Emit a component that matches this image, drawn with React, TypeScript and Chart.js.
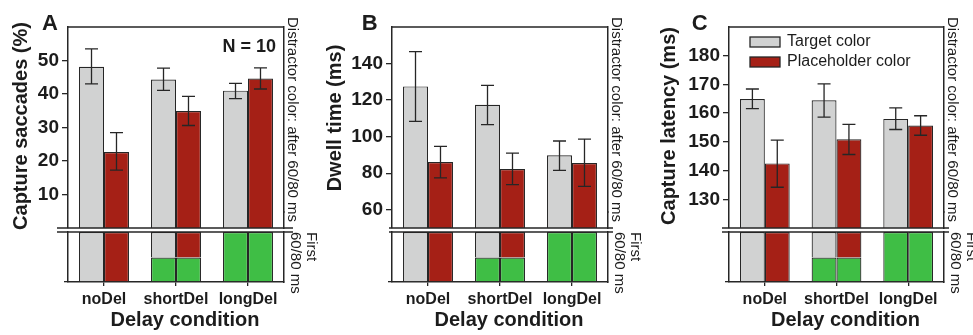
import React, { useEffect, useRef } from 'react';
import { Chart, registerables } from 'chart.js';

Chart.register(...registerables);

// ---------- data ----------
const categories = ['noDel', 'shortDel', 'longDel'];
const seriesNames = ['Target color', 'Placeholder color'];

// Panel A: capture saccades (%)
const saccTarget = [48.1, 44.3, 41.0];
const saccTargetLo = [43.0, 41.1, 38.6];
const saccTargetHi = [53.5, 47.7, 43.2];
const saccPlace = [22.7, 34.9, 44.6];
const saccPlaceLo = [17.3, 30.6, 41.5];
const saccPlaceHi = [28.5, 39.3, 47.8];
const saccTicks = [10, 20, 30, 40, 50];

// Panel B: dwell time (ms)
const dwellTarget = [127.5, 117.4, 89.8];
const dwellTargetLo = [108.4, 106.6, 81.5];
const dwellTargetHi = [146.5, 128.0, 97.6];
const dwellPlace = [86.1, 82.3, 85.6];
const dwellPlaceLo = [77.4, 73.7, 72.8];
const dwellPlaceHi = [94.7, 91.0, 98.6];
const dwellTicks = [60, 80, 100, 120, 140];

// Panel C: capture latency (ms)
const latTarget = [164.9, 164.5, 158.0];
const latTargetLo = [161.6, 158.6, 154.3];
const latTargetHi = [168.4, 170.2, 161.8];
const latPlace = [142.5, 150.9, 155.7];
const latPlaceLo = [134.2, 145.6, 152.3];
const latPlaceHi = [150.6, 156.1, 159.1];
const latTicks = [130, 140, 150, 160, 170, 180];

// First 60/80 ms strip: share of the interval in green (delay) vs. distractor colour
const stripGreen = [0, 0.49, 1];
const stripColour = [1, 0.51, 0];

// ---------- style ----------
const FONT = "'Liberation Sans', Arial, Helvetica, sans-serif";
const GRAY = '#D1D2D2';
const RED = '#A52016';
const GREEN = '#3FBE45';
const EDGE = '#262626';
const INK = '#1c1c1c';

const errorBarPlugin = {
  id: 'errorBars',
  afterDatasetsDraw(chart: any) {
    const ctx = chart.ctx;
    const yScale = chart.scales.y;
    chart.data.datasets.forEach((ds: any, i: number) => {
      if (!ds.errLo) return;
      const meta = chart.getDatasetMeta(i);
      meta.data.forEach((bar: any, j: number) => {
        const x = bar.x;
        const yH = yScale.getPixelForValue(ds.errHi[j]);
        const yL = yScale.getPixelForValue(ds.errLo[j]);
        ctx.save();
        ctx.strokeStyle = EDGE;
        ctx.lineWidth = 1.3;
        ctx.beginPath();
        ctx.moveTo(x, yH);
        ctx.lineTo(x, yL);
        ctx.moveTo(x - 6.5, yH);
        ctx.lineTo(x + 6.5, yH);
        ctx.moveTo(x - 6.5, yL);
        ctx.lineTo(x + 6.5, yL);
        ctx.stroke();
        ctx.restore();
      });
    });
  },
};

const framePlugin = {
  id: 'frame',
  afterDraw(chart: any, _args: any, opts: any) {
    const { left, right, top, bottom } = chart.chartArea;
    const ctx = chart.ctx;
    ctx.save();
    ctx.strokeStyle = EDGE;
    ctx.lineWidth = 1.5;
    ctx.beginPath();
    if (opts.top) {
      ctx.moveTo(left, top);
      ctx.lineTo(right, top);
    }
    if (opts.breakBottom) {
      ctx.moveTo(left - opts.ext[0], bottom);
      ctx.lineTo(right + opts.ext[1], bottom);
    }
    if (opts.breakTop) {
      ctx.moveTo(left - opts.ext[0], top);
      ctx.lineTo(right + opts.ext[1], top);
    }
    ctx.stroke();
    ctx.restore();
  },
};

const notesPlugin = {
  id: 'notes',
  afterDraw(chart: any, _args: any, opts: any) {
    const ctx = chart.ctx;
    const area = chart.chartArea;
    ctx.save();
    ctx.fillStyle = INK;
    if (opts.letter) {
      ctx.font = `bold 22px ${FONT}`;
      ctx.textAlign = 'left';
      ctx.textBaseline = 'alphabetic';
      ctx.fillText(opts.letter, opts.letterX, 30);
    }
    if (opts.note) {
      ctx.font = `bold 18px ${FONT}`;
      ctx.textAlign = 'right';
      ctx.textBaseline = 'alphabetic';
      ctx.fillText(opts.note, area.right - 8, area.top + 25);
    }
    if (opts.legend) {
      const sx = area.left + 21;
      chart.data.datasets.forEach((ds: any, i: number) => {
        const y = area.top + 10 + i * 20;
        ctx.fillStyle = ds.backgroundColor;
        ctx.fillRect(sx, y, 30, 10);
        ctx.strokeStyle = EDGE;
        ctx.lineWidth = 1.3;
        ctx.strokeRect(sx, y, 30, 10);
        ctx.fillStyle = INK;
        ctx.font = `16px ${FONT}`;
        ctx.textAlign = 'left';
        ctx.textBaseline = 'middle';
        ctx.fillText(ds.label, sx + 37, y + 5);
      });
    }
    ctx.restore();
  },
};

type PanelCfg = {
  left: number;
  width: number;
  yWidth: number;
  letter: string;
  letterX: number;
  yTitle: string;
  yTitlePad: number;
  yTitleW: number;
  yTitleRaise: number;
  min: number;
  max: number;
  ticks: number[];
  target: number[];
  targetLo: number[];
  targetHi: number[];
  place: number[];
  placeLo: number[];
  placeHi: number[];
  ext: [number, number];
  note?: string;
  legend?: boolean;
};

const UPPER_H = 232;
const LOWER_TOP = 226;
const LOWER_H = 109;
const RIGHT_W = 40;
const CAT_PCT = 0.694;
const BW = 1.2;
const PLOT_H = 201;

const noPad = (s: any) => {
  s.paddingTop = 0;
  s.paddingBottom = 0;
  s.paddingLeft = 0;
  s.paddingRight = 0;
};

const hidden = {
  ticks: { display: false },
  grid: { display: false },
};

function Panel({ cfg }: { cfg: PanelCfg }) {
  const upperRef = useRef<HTMLCanvasElement>(null);
  const lowerRef = useRef<HTMLCanvasElement>(null);

  useEffect(() => {
    const raise = Math.max(cfg.yTitleRaise * 2, 0.5);
    const upper = new Chart(upperRef.current as HTMLCanvasElement, {
      type: 'bar',
      data: {
        labels: categories,
        datasets: [
          {
            label: seriesNames[0],
            data: cfg.target,
            xAxisID: 'x',
            yAxisID: 'y',
            backgroundColor: GRAY,
            borderColor: EDGE,
            borderWidth: BW,
            categoryPercentage: CAT_PCT,
            barPercentage: 1,
            errLo: cfg.targetLo,
            errHi: cfg.targetHi,
          } as any,
          {
            label: seriesNames[1],
            data: cfg.place,
            xAxisID: 'x',
            yAxisID: 'y',
            backgroundColor: RED,
            borderColor: EDGE,
            borderWidth: BW,
            categoryPercentage: CAT_PCT,
            barPercentage: 1,
            errLo: cfg.placeLo,
            errHi: cfg.placeHi,
          } as any,
        ],
      },
      options: {
        animation: false,
        responsive: false,
        events: [],
        layout: { padding: { top: 27, bottom: UPPER_H - 228, left: 0, right: 0 } },
        plugins: {
          legend: { display: false },
          tooltip: { enabled: false },
          frame: { top: true, breakBottom: true, ext: cfg.ext },
          notes: { letter: cfg.letter, letterX: cfg.letterX, note: cfg.note, legend: cfg.legend },
        } as any,
        scales: {
          x: { display: false, afterFit: noPad },
          y: {
            position: 'left',
            min: cfg.min,
            max: cfg.max,
            afterBuildTicks: (s: any) => {
              s.ticks = cfg.ticks.map((v) => ({ value: v }));
            },
            afterFit: (s: any) => {
              s.width = cfg.yWidth - cfg.yTitleW;
              noPad(s);
            },
            ticks: { font: { family: FONT, size: 19, weight: 'bold' }, color: INK, padding: 3 },
            grid: { display: true, drawOnChartArea: false, drawTicks: true, tickLength: 6, color: EDGE, lineWidth: 1.3 },
            border: { display: true, color: EDGE, width: 1.5 },
          },
          // left title column: a blank spacer stacked under the titled axis
          ys: {
            type: 'linear',
            position: 'left',
            stack: 'left',
            stackWeight: raise,
            afterFit: (s: any) => {
              s.width = cfg.yTitleW;
              noPad(s);
            },
            ...hidden,
            border: { display: false },
          },
          yt: {
            type: 'linear',
            position: 'left',
            stack: 'left',
            stackWeight: PLOT_H - raise,
            afterFit: (s: any) => {
              s.width = cfg.yTitleW;
              noPad(s);
            },
            ...hidden,
            border: { display: false },
            title: {
              display: true,
              text: cfg.yTitle,
              color: INK,
              font: { family: FONT, size: 20, weight: 'bold', lineHeight: 1.2 },
              padding: { top: cfg.yTitlePad, bottom: 0 },
            },
          },
          // right-hand side: a titled axis stacked over a short plain one
          y2: {
            type: 'linear',
            position: 'right',
            stack: 'right',
            stackWeight: 185,
            min: 0,
            max: 1,
            afterFit: (s: any) => {
              s.width = RIGHT_W;
              noPad(s);
            },
            ...hidden,
            border: { display: true, color: EDGE, width: 1.5 },
            title: {
              display: true,
              text: 'Distractor color: after 60/80 ms',
              color: INK,
              font: { family: FONT, size: 15, lineHeight: 1.15 },
              padding: { top: 23.4, bottom: 0 },
            },
          },
          y3: {
            type: 'linear',
            position: 'right',
            stack: 'right',
            stackWeight: 16,
            min: 0,
            max: 1,
            afterFit: (s: any) => {
              s.width = RIGHT_W;
              noPad(s);
            },
            ...hidden,
            border: { display: true, color: EDGE, width: 1.5 },
          },
        } as any,
      },
      plugins: [errorBarPlugin, framePlugin, notesPlugin],
    } as any);

    const seg = (data: number[], stack: string, colour: string, label: string) => ({
      label,
      data,
      stack,
      xAxisID: 'x',
      yAxisID: 'y',
      backgroundColor: colour,
      borderColor: EDGE,
      borderWidth: BW,
      categoryPercentage: CAT_PCT,
      barPercentage: 1,
    });

    const lower = new Chart(lowerRef.current as HTMLCanvasElement, {
      type: 'bar',
      data: {
        labels: categories,
        datasets: [
          seg(stripGreen, 'target', GREEN, 'Target: delay'),
          seg(stripColour, 'target', GRAY, 'Target color'),
          seg(stripGreen, 'place', GREEN, 'Placeholder: delay'),
          seg(stripColour, 'place', RED, 'Placeholder color'),
        ],
      },
      options: {
        animation: false,
        responsive: false,
        events: [],
        layout: { padding: { top: 232 - LOWER_TOP, bottom: 0, left: 0, right: 0 } },
        plugins: {
          legend: { display: false },
          tooltip: { enabled: false },
          frame: { top: false, breakTop: true, ext: cfg.ext },
        } as any,
        scales: {
          x: {
            stacked: true,
            position: 'bottom',
            afterFit: (s: any) => {
              s.height = 32;
              noPad(s);
            },
            grid: { display: true, drawOnChartArea: false, offset: false, drawTicks: true, tickLength: 4, color: EDGE, lineWidth: 1.3 },
            border: { display: true, color: EDGE, width: 1.5 },
            ticks: { font: { family: FONT, size: 16, weight: 'bold' }, color: INK, padding: 4, maxRotation: 0 },
          },
          // axis title row: a short blank axis stacked beside the titled one
          xs: {
            type: 'category',
            position: 'bottom',
            stack: 'xtitle',
            stackWeight: 18,
            afterFit: (s: any) => {
              s.height = LOWER_TOP + LOWER_H - 282 - 32;
              noPad(s);
            },
            ...hidden,
            border: { display: false },
          },
          xt: {
            type: 'category',
            position: 'bottom',
            stack: 'xtitle',
            stackWeight: 198,
            afterFit: (s: any) => {
              s.height = LOWER_TOP + LOWER_H - 282 - 32;
              noPad(s);
            },
            ...hidden,
            border: { display: false },
            title: {
              display: true,
              text: 'Delay condition',
              color: INK,
              font: { family: FONT, size: 20, weight: 'bold', lineHeight: 1.2 },
              padding: { top: 0, bottom: 2.3 },
            },
          },
          y: {
            stacked: true,
            min: 0,
            max: 1,
            afterBuildTicks: (s: any) => {
              s.ticks = [{ value: 0 }];
            },
            afterFit: (s: any) => {
              s.width = cfg.yWidth;
              noPad(s);
            },
            ticks: { display: false },
            grid: { display: true, drawOnChartArea: false, drawTicks: true, tickLength: 4, color: EDGE, lineWidth: 1.3 },
            border: { display: true, color: EDGE, width: 1.5 },
          },
          y2: {
            type: 'linear',
            position: 'right',
            min: 0,
            max: 1,
            afterFit: (s: any) => {
              s.width = RIGHT_W;
              noPad(s);
            },
            ...hidden,
            border: { display: true, color: EDGE, width: 1.5 },
            title: {
              display: true,
              text: ['First', '60/80 ms'],
              align: 'end',
              color: INK,
              font: { family: FONT, size: 15, lineHeight: 1.09 },
              padding: { top: 4.4, bottom: 0 },
            },
          },
        } as any,
      },
      plugins: [framePlugin],
    } as any);

    return () => {
      upper.destroy();
      lower.destroy();
    };
  }, [cfg]);

  return (
    <>
      <canvas
        ref={upperRef}
        width={cfg.width}
        height={UPPER_H}
        style={{ position: 'absolute', left: cfg.left, top: 0, width: cfg.width, height: UPPER_H }}
      />
      <canvas
        ref={lowerRef}
        width={cfg.width}
        height={LOWER_H}
        style={{ position: 'absolute', left: cfg.left, top: LOWER_TOP, width: cfg.width, height: LOWER_H }}
      />
    </>
  );
}

const panels: PanelCfg[] = [
  {
    left: 0, width: 324, yWidth: 68, letter: 'A', letterX: 42,
    yTitle: 'Capture saccades (%)', yTitlePad: 9, yTitleW: 35, yTitleRaise: 1.5,
    min: 0, max: 60, ticks: saccTicks,
    target: saccTarget, targetLo: saccTargetLo, targetHi: saccTargetHi,
    place: saccPlace, placeLo: saccPlaceLo, placeHi: saccPlaceHi,
    ext: [11, 9], note: 'N = 10',
  },
  {
    left: 320, width: 328, yWidth: 72, letter: 'B', letterX: 41.7,
    yTitle: 'Dwell time (ms)', yTitlePad: 3.9, yTitleW: 30, yTitleRaise: 9.5,
    min: 50, max: 160, ticks: dwellTicks,
    target: dwellTarget, targetLo: dwellTargetLo, targetHi: dwellTargetHi,
    place: dwellPlace, placeLo: dwellPlaceLo, placeHi: dwellPlaceHi,
    ext: [3, 5],
  },
  {
    left: 640, width: 344, yWidth: 89, letter: 'C', letterX: 51.7,
    yTitle: 'Capture latency (ms)', yTitlePad: 17.6, yTitleW: 44, yTitleRaise: 1.5,
    min: 120, max: 190, ticks: latTicks,
    target: latTarget, targetLo: latTargetLo, targetHi: latTargetHi,
    place: latPlace, placeLo: latPlaceLo, placeHi: latPlaceHi,
    ext: [7, 5], legend: true,
  },
];

export default function App() {
  return (
    <div
      style={{
        position: 'fixed',
        left: 0,
        top: 0,
        width: 973,
        height: 335,
        overflow: 'hidden',
        background: '#ffffff',
      }}
    >
      {panels.map((p) => (
        <Panel key={p.letter} cfg={p} />
      ))}
    </div>
  );
}
